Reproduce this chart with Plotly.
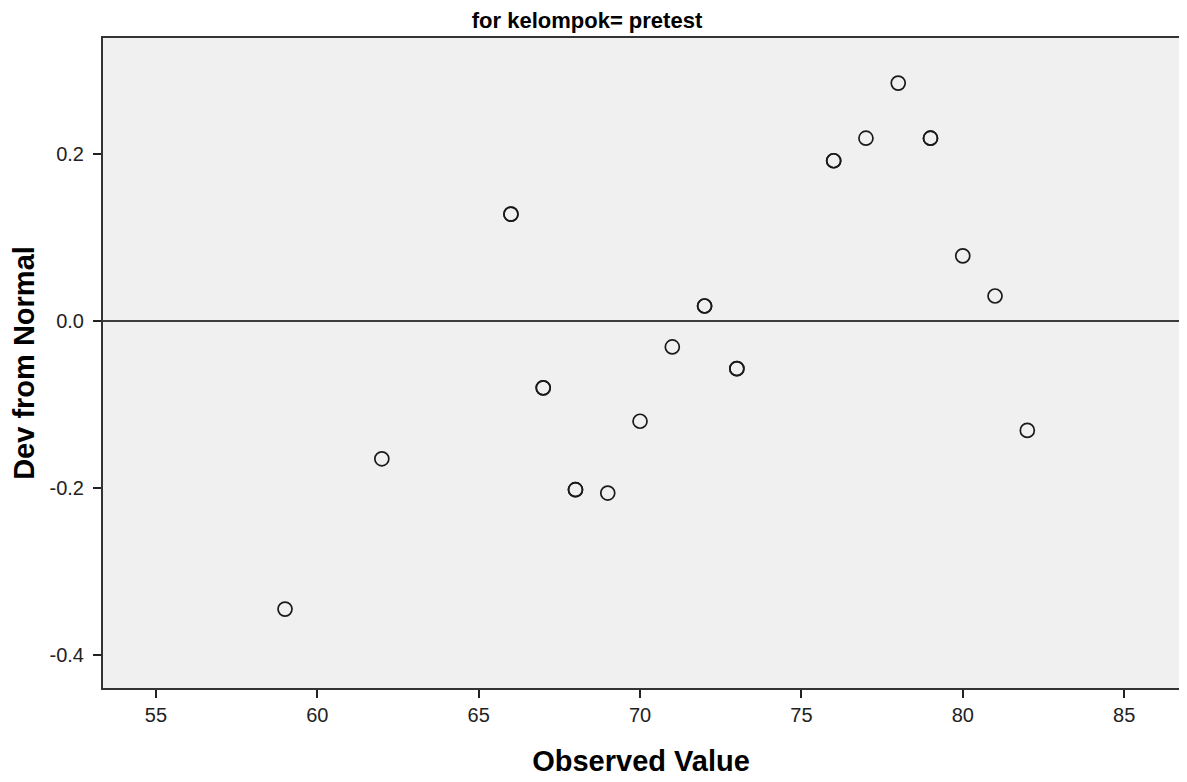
import plotly.graph_objects as go

observed = [59, 62, 66, 66, 67, 67, 68, 68, 69, 70, 71, 72, 72, 73, 73,
            76, 76, 77, 78, 79, 79, 80, 81, 82]
dev_from_normal = [-0.345, -0.165, 0.128, 0.128, -0.080, -0.080, -0.202, -0.202,
                   -0.206, -0.120, -0.031, 0.018, 0.018, -0.057, -0.057,
                   0.192, 0.192, 0.219, 0.285, 0.219, 0.219, 0.078, 0.030, -0.131]
x_ticks = [55, 60, 65, 70, 75, 80, 85]
y_ticks = [-0.4, -0.2, 0.0, 0.2]
y_tick_labels = ["-0.4", "-0.2", "0.0", "0.2"]

fig = go.Figure()
fig.add_trace(go.Scatter(
    x=observed, y=dev_from_normal, mode="markers",
    marker=dict(symbol="circle-open", size=14, color="#1a1a1a",
                line=dict(width=1.7, color="#1a1a1a")),
    showlegend=False, hoverinfo="x+y"))

fig.add_shape(type="line", xref="paper", yref="y", x0=0, x1=1, y0=0, y1=0,
              line=dict(color="black", width=1.6), layer="below")

FONT = "Liberation Sans, Arial, sans-serif"
font_tick = dict(family=FONT, size=20, color="#222")
# page body has an 8px margin, so the figure is 8px smaller in each direction
W, H = 1179, 774
fig.update_layout(
    width=W, height=H,
    margin=dict(l=95, r=8, t=30, b=94, autoexpand=False),
    paper_bgcolor="white", plot_bgcolor="#F0F0F0",
    title=dict(text="<b>for kelompok= pretest</b>", x=(587 - 8) / W, xanchor="center",
               y=1 - (20 - 8) / H, yanchor="middle", automargin=False,
               font=dict(family=FONT, size=22, color="black")),
    xaxis=dict(range=[53.36, 86.70], tickvals=x_ticks, ticks="outside", ticklen=8,
               tickwidth=1.5, tickcolor="#222", showgrid=False, zeroline=False,
               showline=True, linecolor="#333", linewidth=2, mirror=True,
               tickfont=font_tick, automargin=False,
               title=dict(text="<b>Observed Value</b>", standoff=26,
                          font=dict(family=FONT, size=29, color="black"))),
    yaxis=dict(range=[-0.4395, 0.339], tickvals=y_ticks, ticktext=y_tick_labels,
               ticks="outside", ticklen=8, tickwidth=1.5, tickcolor="#222",
               ticklabelstandoff=5,
               showgrid=False, zeroline=False,
               showline=True, linecolor="#333", linewidth=2, mirror=True,
               tickfont=font_tick, automargin=False,
               title=dict(text="<b>Dev from Normal</b>", standoff=6,
                          font=dict(family=FONT, size=29, color="black"))),
)

fig.write_html("out.html")
